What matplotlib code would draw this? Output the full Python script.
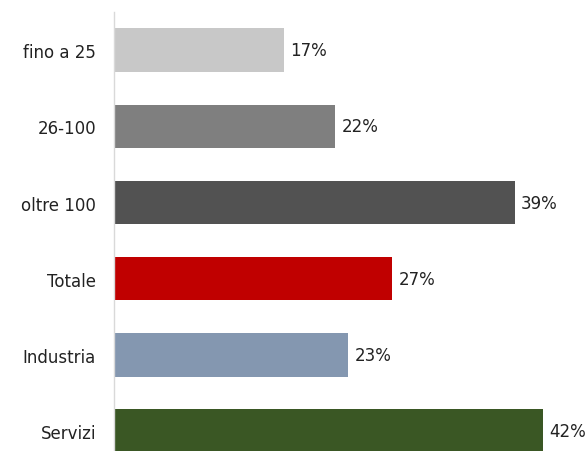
import matplotlib.pyplot as plt

categories = ["fino a 25", "26-100", "oltre 100", "Totale", "Industria", "Servizi"]
values = [16.7, 21.7, 39.3, 27.3, 23.0, 42.1]
colors = ["#C8C8C8", "#7F7F7F", "#525252", "#C00000", "#8497B0", "#3A5724"]

plt.rcParams["font.family"] = ["DejaVu Sans"]

fig = plt.figure(figsize=(5.88, 4.52), dpi=100)
# axes in pixel terms: left 114, top 13, bottom at figure edge
ax = fig.add_axes([114 / 588, 0, 1 - 114 / 588, 1 - 13 / 452])

pos = list(range(len(categories)))
ax.barh(pos, values, height=0.57, color=colors)
for p, v in zip(pos, values):
    ax.text(v + 0.6, p, f"{v:.0f}%", va="center", ha="left", fontsize=12, color="#222222")

ax.set_ylim(5.26, -0.5)
ax.set_xlim(0, 46.5)
ax.set_yticks(pos)
ax.set_yticklabels(categories, fontsize=12, color="#222222")
ax.set_xticks([])
ax.tick_params(axis="y", length=0, pad=13)
for s in ["top", "right", "bottom"]:
    ax.spines[s].set_visible(False)
ax.spines["left"].set_color("#D9D9D9")
ax.spines["left"].set_linewidth(1)

fig.savefig("out.png", dpi=100)
